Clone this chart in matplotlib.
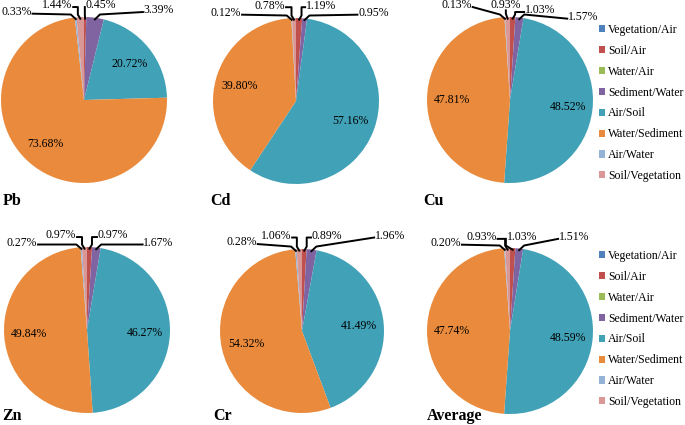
import numpy as np
import matplotlib
matplotlib.use("Agg")
import matplotlib.pyplot as plt
from matplotlib.patches import Patch

plt.rcParams["font.family"] = ["Liberation Serif", "DejaVu Serif"]

categories = ["Vegetation/Air", "Soil/Air", "Water/Air", "Sediment/Water",
              "Air/Soil", "Water/Sediment", "Air/Water", "Soil/Vegetation"]
colors = ["#4F81BD", "#C0504D", "#9BBB59", "#8064A2",
          "#41A1B7", "#E98A3C", "#95B3D7", "#D99795"]

pb = [0, 0.45, 0, 3.39, 20.72, 73.68, 0.33, 1.44]
cd = [0, 1.19, 0, 0.95, 57.16, 39.80, 0.12, 0.78]
cu = [0, 1.03, 0, 1.57, 48.52, 47.81, 0.13, 0.93]
zn = [0, 0.97, 0, 1.67, 46.27, 49.84, 0.27, 0.97]
cr = [0, 0.89, 0, 1.96, 41.49, 54.32, 0.28, 1.06]
avg = [0, 1.03, 0, 1.51, 48.59, 47.74, 0.20, 0.93]

W, H = 685, 425
fig = plt.figure(figsize=(W / 100, H / 100), dpi=100)

# panel: name, values, pie centre/radius in px, title position,
# outside labels {slice: (x, y, ha)} in radius units
panels = [
    ("Pb", pb, (84, 100, 83), (3, 205),
     {1: (0.02, 1.14, "left"), 3: (0.72, 1.08, "left"),
      6: (-0.63, 1.06, "right"), 7: (-0.14, 1.14, "right")}),
    ("Cd", cd, (296, 101, 83), (210, 205),
     {1: (0.12, 1.15, "left"), 3: (0.75, 1.06, "left"),
      6: (-0.66, 1.06, "right"), 7: (-0.13, 1.15, "right")}),
    ("Cu", cu, (510, 100, 83), (423, 205),
     {1: (0.18, 1.08, "left"), 3: (0.70, 1.00, "left"),
      6: (-0.46, 1.14, "right"), 7: (-0.05, 1.15, "center")}),
    ("Zn", zn, (87, 330, 83), (2, 420),
     {1: (0.13, 1.14, "left"), 3: (0.68, 1.05, "left"),
      6: (-0.60, 1.05, "right"), 7: (-0.13, 1.14, "right")}),
    ("Cr", cr, (302, 331, 82), (213, 420),
     {1: (0.12, 1.16, "left"), 3: (0.89, 1.16, "left"),
      6: (-0.55, 1.08, "right"), 7: (-0.13, 1.16, "right")}),
    ("Average", avg, (510, 331, 83), (427, 420),
     {1: (-0.04, 1.13, "left"), 3: (0.59, 1.13, "left"),
      6: (-0.59, 1.06, "right"), 7: (-0.16, 1.13, "right")}),
]

for name, vals, (cx, cy, r), (tx, ty), small in panels:
    ax = fig.add_axes([(cx - r) / W, 1 - (cy + r) / H, 2 * r / W, 2 * r / H])
    wedges, _ = ax.pie(vals, colors=colors, startangle=90, counterclock=False,
                       radius=1, wedgeprops=dict(linewidth=0))
    ax.set_xlim(-1, 1)
    ax.set_ylim(-1, 1)
    ax.axis("off")
    for i, w in enumerate(wedges):
        if vals[i] == 0:
            continue
        mid = np.deg2rad((w.theta1 + w.theta2) / 2)
        if i in small:
            lx, ly, ha = small[i]
            ax.text(lx, ly, "%.2f%%" % vals[i], ha=ha, va="center",
                    fontsize=8.5, clip_on=False)
            ex, ey = 0.98 * np.cos(mid), 0.98 * np.sin(mid)
            if ha == "center":
                px = [lx, lx, ex]
                py = [ly - 0.07, ey + 0.06, ey]
            else:
                side = 1 if ha == "left" else -1
                sx = lx - side * 0.01
                if abs(sx - ex) < 0.3:
                    kx = min(sx, ex + 0.03) if side > 0 else max(sx, ex - 0.03)
                    px = [sx, kx, kx, ex]
                    py = [ly - 0.02, ly - 0.02, ey + 0.05, ey]
                else:
                    px = [sx, ex + side * 0.06, ex]
                    py = [ly - 0.02, 1.03, ey]
            ax.plot(px, py, color="black", lw=1.4, clip_on=False)
        else:
            ax.text(0.7 * np.cos(mid), 0.7 * np.sin(mid), "%.2f%%" % vals[i],
                    ha="center", va="center", fontsize=8.5)
    fig.text(tx / W, 1 - ty / H, name, fontsize=11.5, fontweight="bold",
             ha="left", va="baseline")

handles = [Patch(facecolor=c, edgecolor="none") for c in colors]
for top in (24, 250):
    fig.legend(handles, categories, loc="upper left",
               bbox_to_anchor=(599 / W, 1 - top / H), frameon=False,
               fontsize=8.5, handlelength=0.55, handleheight=0.55,
               handletextpad=0.2, labelspacing=0.75, borderpad=0,
               borderaxespad=0)

fig.savefig("out.png", dpi=100)
